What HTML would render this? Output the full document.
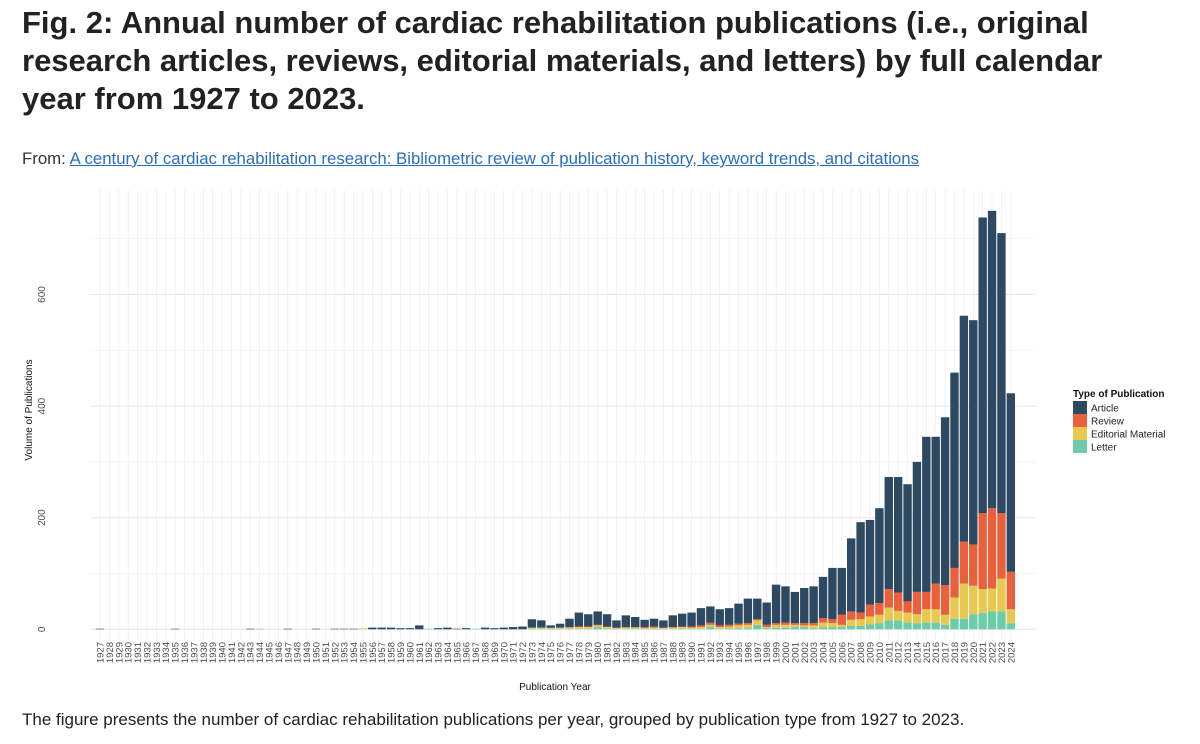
<!DOCTYPE html>
<html><head><meta charset="utf-8">
<style>
body{margin:0;background:#fff;width:1200px;height:744px;overflow:hidden;font-family:"Liberation Sans",Arial,sans-serif;}
h1{position:absolute;left:22px;top:4px;margin:0;font-size:31px;line-height:38px;font-weight:bold;color:#222;width:1100px;}
.from{position:absolute;left:22px;top:149px;font-size:16.8px;color:#333}
.from a{color:#2a6ebb;text-decoration:underline}
.cap{position:absolute;left:22px;top:710px;font-size:17px;color:#222}
svg{position:absolute;left:0;top:0}
</style></head><body>
<h1>Fig. 2: Annual number of cardiac rehabilitation publications (i.e., original research articles, reviews, editorial materials, and letters) by full calendar year from 1927 to 2023.</h1>
<div class="from">From: <a>A century of cardiac rehabilitation research: Bibliometric review of publication history, keyword trends, and citations</a></div>
<svg id="chart" width="1200" height="744"></svg>
<div class="cap">The figure presents the number of cardiac rehabilitation publications per year, grouped by publication type from 1927 to 2023.</div>
<script>
const startYear = 1927;
const years = [];
for (let y = 1927; y <= 2024; y++) years.push(y);
// values per year 1927..2024
const article = [1,0,0,0,0,0,0,0,1,0,0,0,0,0,0,0,1,0,0,0,1,0,0,
 1,0,1,1,1,0,3,3,3,2,2,7,0,2,3,1,2,0,3,2,3,4,5,15,13,4,7,
 15,25,22,24,22,13,21,18,13,14,13,21,23,25,31,29,29,30,36,44,37,40,69,65,56,63,66,
 74,92,84,131,162,152,170,201,207,210,233,278,263,301,350,405,402,530,533,502,320];
const review = [0,0,0,0,0,0,0,0,0,0,0,0,0,0,0,0,0,0,0,0,0,0,0,
 0,0,0,0,0,0,0,0,0,0,0,0,0,0,0,0,0,0,0,0,0,0,0,0,0,1,0,
 1,1,1,1,1,1,1,1,2,2,1,1,1,2,3,4,3,3,3,3,2,4,3,4,3,4,4,
 8,7,18,15,12,21,21,33,33,20,40,31,46,53,53,75,74,136,144,117,67];
const editorial = [0,0,0,0,0,0,0,0,0,0,0,0,0,0,0,0,0,0,0,0,0,0,0,
 0,0,0,0,0,2,0,0,0,0,0,0,0,0,0,0,0,0,0,0,0,0,0,2,2,1,2,
 2,3,3,3,3,1,2,2,1,2,1,2,3,2,3,4,3,3,5,6,8,2,5,5,4,3,5,
 8,7,4,11,12,14,15,23,17,18,16,24,24,18,38,63,51,43,41,59,25];
const letter = [0,0,0,0,0,0,0,0,0,0,0,0,0,0,0,0,0,1,0,0,0,0,0,
 0,0,0,0,0,0,0,0,0,0,0,0,1,0,0,0,0,1,0,0,0,0,0,1,1,1,1,
 1,1,1,4,1,1,1,1,1,1,1,1,1,1,1,4,1,2,2,2,8,2,3,3,4,4,2,
 4,4,4,6,6,9,11,16,16,12,11,12,12,8,19,19,27,29,32,32,11];
const yTicks = [0,200,400,600];
const seriesNames = ["Article","Review","Editorial Material","Letter"];
const seriesColors = ["#2e4a62","#e8603c","#e8c94f","#6ccba8"];

const NS = "http://www.w3.org/2000/svg";
const svg = document.getElementById("chart");
const px0 = 95.3, step = 9.39, y0 = 629.3, pxPerUnit = 0.558;
const plotTop = 190, plotBottom = 640, plotLeft = 90, plotRight = 1036;
function xScale(i){ return px0 + i*step; }
function yScale(v){ return y0 - v*pxPerUnit; }
function mk(tag, attrs){ const e=document.createElementNS(NS,tag); for(const k in attrs) e.setAttribute(k,attrs[k]); svg.appendChild(e); return e; }

for (let i=0;i<years.length;i++){
  const g = mk("line",{x1:xScale(i)+4.7,x2:xScale(i)+4.7,y1:plotTop,y2:plotBottom,stroke:"#ececec","stroke-width":0.7});
  
  
}
for (let v=0; v<=700; v+=100){
  const g = mk("line",{x1:plotLeft,x2:plotRight,y1:yScale(v),y2:yScale(v),stroke:v%200===0?"#e6e6e6":"#f2f2f2","stroke-width":v%200===0?1:0.7});
  
  
}
const series = [article, review, editorial, letter];
const order = [3,2,1,0];
for (let i=0;i<years.length;i++){
  let base = 0;
  for (const s of order){
    const v = series[s][i];
    if (!v) continue;
    const r = mk("rect",{x:xScale(i)+0.5,y:yScale(base+v),width:8.4,height:v*pxPerUnit,fill:seriesColors[s]});
    
    
    base += v;
  }
}
for (const t of yTicks){
  const tx = mk("text",{x:0,y:0,transform:`translate(45,${yScale(t)}) rotate(-90)`,"text-anchor":"middle","font-size":10,fill:"#4d4d4d"});
  tx.textContent = t;
  
  
}
for (let i=0;i<years.length;i++){
  const tx = mk("text",{x:0,y:0,transform:`translate(${xScale(i)+8.2},642) rotate(-90)`,"text-anchor":"end","font-size":9.5,fill:"#4d4d4d"});
  tx.textContent = years[i];
  
  
}
const xt = mk("text",{x:555,y:690,"text-anchor":"middle","font-size":10,fill:"#111"});
xt.textContent="Publication Year";


const yt = mk("text",{x:0,y:0,transform:"translate(32,410) rotate(-90)","text-anchor":"middle","font-size":10,fill:"#111"});
yt.textContent="Volume of Publications";


const lt = mk("text",{x:1073,y:397,"font-size":10,"font-weight":"bold",fill:"#111"});
lt.textContent="Type of Publication";


for (let k=0;k<4;k++){
  const r = mk("rect",{x:1073,y:401+k*13,width:14,height:13,fill:seriesColors[k]});
  
  
  const t = mk("text",{x:1091,y:411.5+k*13,"font-size":10,fill:"#222"});
  t.textContent = seriesNames[k];
  
  
}
</script>
</body></html>
